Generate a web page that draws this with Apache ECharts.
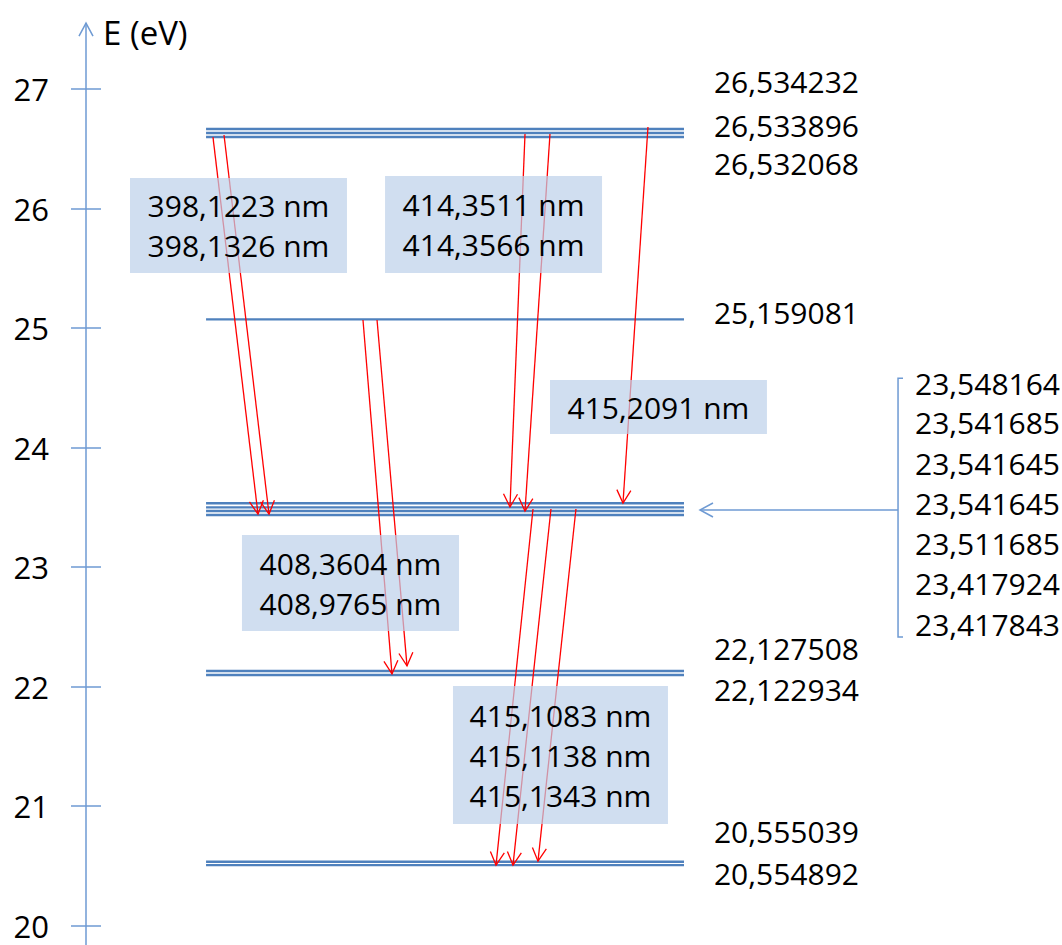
<!DOCTYPE html>
<html><head><meta charset="utf-8">
<script src="https://cdn.jsdelivr.net/npm/echarts@6/dist/echarts.min.js"></script>
<style>html,body{margin:0;padding:0;background:#fff}#c{width:1062px;height:945px}</style>
</head><body><div id="c"></div>
<script>
// ---- data ----
const yTicks = [20, 21, 22, 23, 24, 25, 26, 27];
const axisName = 'E (eV)';
// drawn energy level lines (eV, as placed in the diagram)
const levelLines = [26.665, 26.632, 26.598, 25.073, 23.534, 23.500, 23.469, 23.436, 22.131, 22.097, 20.535, 20.507];
// right-hand level labels: [label y, text]
const levelLabels = [
  [27.059, '26,534232'], [26.691, '26,533896'], [26.373, '26,532068'],
  [25.127, '25,159081'], [22.323, '22,127508'], [21.972, '22,122934'],
  [20.784, '20,555039'], [20.433, '20,554892']
];
const groupLabels = [
  [24.540, '23,548164'], [24.206, '23,541685'], [23.871, '23,541645'],
  [23.536, '23,541645'], [23.201, '23,511685'], [22.867, '23,417924'],
  [22.516, '23,417843']
];
// transitions: [x start, E start, x end, E end]
const transitions = [
  [13.01, 26.598, 17.62, 23.444], [14.14, 26.615, 18.75, 23.444],
  [44.98, 26.623, 43.44, 23.503], [47.54, 26.623, 44.98, 23.469],
  [57.58, 26.682, 55.02, 23.536],
  [28.38, 25.067, 31.35, 22.107], [29.82, 25.067, 32.89, 22.174],
  [45.80, 23.486, 42.01, 20.507], [47.64, 23.486, 43.75, 20.507], [50.20, 23.486, 46.31, 20.540]
];
const boxTexts = [
  ['398,1223 nm', '398,1326 nm'],
  ['414,3511 nm', '414,3566 nm'],
  ['415,2091 nm'],
  ['408,3604 nm', '408,9765 nm'],
  ['415,1083 nm', '415,1138 nm', '415,1343 nm']
];
const boxRects = [
  [4.51, 26.255, 26.74, 25.460],
  [30.64, 26.272, 52.87, 25.460],
  [47.54, 24.565, 69.77, 24.113],
  [15.98, 23.268, 38.22, 22.465],
  [37.60, 22.005, 59.63, 20.851]
];
// ---- layout/style ----
const levelX = [12.30, 61.27];
const labelX = 64.34, groupLabelX = 84.94;
const bracket = { x: 83.20, tickX: 83.71, top: 24.581, bottom: 22.415, arrowY: 23.478, arrowX: 62.91 };
const axisExt = [19.80, 27.552];
const FONT = '"Open Sans", "Liberation Sans", sans-serif';
const AXIS_COLOR = '#6E9AD3';
const LEVEL_COLOR = '#4F81BD';

function chevron(tip, from, L, W) {
  const dx = tip[0] - from[0], dy = tip[1] - from[1];
  const len = Math.sqrt(dx * dx + dy * dy) || 1;
  const ux = dx / len, uy = dy / len, nx = -uy, ny = ux;
  return [[tip[0] - ux * L + nx * W, tip[1] - uy * L + ny * W], tip, [tip[0] - ux * L - nx * W, tip[1] - uy * L - ny * W]];
}

const chart = echarts.init(document.getElementById('c'), null, { renderer: 'svg' });
const option = {
  animation: false,
  grid: { left: 86, right: 0, top: 89, bottom: 19.3, containLabel: false },
  xAxis: { type: 'value', min: 0, max: 100, show: false },
  yAxis: [
    {
      type: 'value', min: yTicks[0], max: yTicks[yTicks.length - 1], interval: 1, position: 'left',
      name: axisName, nameLocation: 'end', nameGap: 57,
      nameTextStyle: { align: 'left', verticalAlign: 'middle', padding: [0, 0, 0, 17], fontSize: 33, lineHeight: 34, fontFamily: FONT, color: '#000' },
      axisLine: { show: false },
      axisTick: { show: true, length: 15, lineStyle: { color: AXIS_COLOR, width: 1.5 } },
      axisLabel: { margin: 37, fontSize: 31, lineHeight: 26, fontFamily: FONT, color: '#000' },
      splitLine: { show: false }
    },
    {
      type: 'value', min: yTicks[0], max: yTicks[yTicks.length - 1], interval: 1, position: 'left',
      axisLine: { show: false },
      axisTick: { show: true, inside: true, length: 15, lineStyle: { color: AXIS_COLOR, width: 1.5 } },
      axisLabel: { show: false }, splitLine: { show: false }
    }
  ],
  series: [
    { // axis line with open arrow
      type: 'custom', z: 1, clip: false,
      data: [[0, axisExt[0], axisExt[1]]],
      renderItem: function (p, api) {
        const b = api.coord([api.value(0), api.value(1)]);
        const t = api.coord([api.value(0), api.value(2)]);
        return { type: 'group', children: [
          { type: 'line', shape: { x1: b[0], y1: b[1], x2: t[0], y2: t[1] }, style: { stroke: AXIS_COLOR, lineWidth: 1.5 } },
          { type: 'polyline', shape: { points: chevron(t, b, 13, 7) }, style: { stroke: AXIS_COLOR, lineWidth: 1.5, fill: null } }
        ]};
      }
    },
    { // energy levels
      type: 'custom', z: 2, clip: false,
      data: levelLines.map(v => [levelX[0], v, levelX[1]]),
      renderItem: function (p, api) {
        const a = api.coord([api.value(0), api.value(1)]);
        const b = api.coord([api.value(2), api.value(1)]);
        return { type: 'line', shape: { x1: a[0], y1: a[1], x2: b[0], y2: b[1] }, style: { stroke: LEVEL_COLOR, lineWidth: 2.4 } };
      }
    },
    { // transitions
      type: 'custom', z: 3, clip: false,
      data: transitions,
      renderItem: function (p, api) {
        const a = api.coord([api.value(0), api.value(1)]);
        const b = api.coord([api.value(2), api.value(3)]);
        return { type: 'group', children: [
          { type: 'line', shape: { x1: a[0], y1: a[1], x2: b[0], y2: b[1] }, style: { stroke: '#FF0000', lineWidth: 1.3 } },
          { type: 'polyline', shape: { points: chevron(b, a, 13, 7) }, style: { stroke: '#FF0000', lineWidth: 1.3, fill: null } }
        ]};
      }
    },
    { // wavelength boxes
      type: 'custom', z: 4, clip: false,
      data: boxRects.map((r, i) => [r[0], r[1], r[2], r[3], i]),
      renderItem: function (p, api) {
        const a = api.coord([api.value(0), api.value(1)]);
        const b = api.coord([api.value(2), api.value(3)]);
        const lines = boxTexts[api.value(4)];
        const cx = (a[0] + b[0]) / 2, cy = (a[1] + b[1]) / 2;
        const children = [{ type: 'rect', shape: { x: a[0], y: a[1], width: b[0] - a[0], height: b[1] - a[1] }, style: { fill: 'rgba(188,208,234,0.7)' } }];
        lines.forEach((t, k) => {
          children.push({ type: 'text', x: cx, y: cy + (k - (lines.length - 1) / 2) * 40,
            style: { text: t, fill: '#000', fontSize: 30, fontFamily: FONT, align: 'center', verticalAlign: 'middle' } });
        });
        return { type: 'group', children: children };
      }
    },
    { // level labels
      type: 'custom', z: 5, clip: false,
      data: levelLabels.map(d => [labelX, d[0]]).concat(groupLabels.map(d => [groupLabelX, d[0]])),
      renderItem: function (p, api) {
        const row = p.dataIndex < levelLabels.length ? levelLabels[p.dataIndex] : groupLabels[p.dataIndex - levelLabels.length];
        const c = api.coord([api.value(0), api.value(1)]);
        return { type: 'text', x: c[0], y: c[1], style: { text: row[1], fill: '#000', fontSize: 30, fontFamily: FONT, align: 'left', verticalAlign: 'middle' } };
      }
    },
    { // bracket with arrow
      type: 'custom', z: 5, clip: false,
      data: [[bracket.x, bracket.top, bracket.bottom, bracket.arrowY, bracket.arrowX, bracket.tickX]],
      renderItem: function (p, api) {
        const t = api.coord([api.value(0), api.value(1)]);
        const bt = api.coord([api.value(0), api.value(2)]);
        const m = api.coord([api.value(0), api.value(3)]);
        const tip = api.coord([api.value(4), api.value(3)]);
        const tk = api.coord([api.value(5), api.value(1)]);
        const st = { stroke: AXIS_COLOR, lineWidth: 1.5, fill: null };
        return { type: 'group', children: [
          { type: 'polyline', shape: { points: [[tk[0], t[1]], [t[0], t[1]], [bt[0], bt[1]], [tk[0], bt[1]]] }, style: st },
          { type: 'line', shape: { x1: m[0], y1: m[1], x2: tip[0], y2: tip[1] }, style: st },
          { type: 'polyline', shape: { points: chevron(tip, m, 13, 7) }, style: st }
        ]};
      }
    }
  ]
};
chart.setOption(option);
</script>
</body></html>
